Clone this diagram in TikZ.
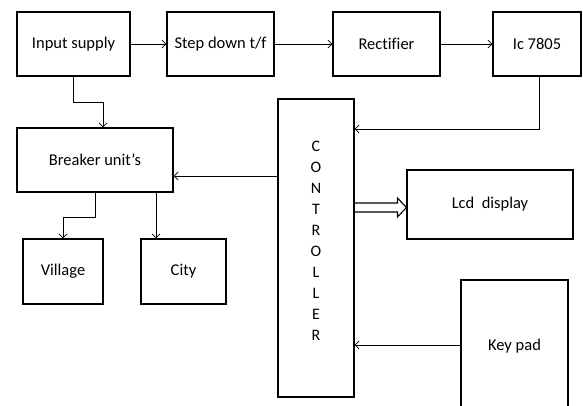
\documentclass[tikz,border=0pt]{standalone}
\usepackage{fontspec}
\setmainfont[Ligatures=NoCommon]{Carlito}
\usetikzlibrary{arrows.meta,calc}
\begin{document}
\begin{tikzpicture}[x=1pt,y=-1pt,
  blk/.style={draw,line width=1.1pt,inner sep=0pt,font=\fontsize{16.5}{19}\selectfont},
  arr/.style={line width=0.8pt,-{Straight Barb[length=4pt,width=8pt]}},
  ln/.style={line width=0.8pt}]
\useasboundingbox (0,0) rectangle (583,405);
\clip (0,0) rectangle (583,405);
\node[blk,minimum width=113pt,minimum height=64pt] (inp) at (73.5,44) {Input supply};
\node[blk,minimum width=107pt,minimum height=64pt] (step) at (220.5,44) {Step down t/f};
\node[blk,minimum width=107pt,minimum height=64pt] (rect) at (386.5,44) {Rectifier};
\node[blk,minimum width=88pt,minimum height=64pt] (ic) at (537,44) {Ic 7805};
\node[blk,minimum width=76pt,minimum height=298pt] (ctrl) at (316,248) {};
\node[font=\fontsize{16}{21}\selectfont,align=center,inner sep=0pt] (ctrltxt) at (316,241) {C\\O\\N\\T\\R\\O\\L\\L\\E\\R};
\node[blk,minimum width=156pt,minimum height=64pt] (brk) at (95,160) {Breaker unit’s};
\node[blk,minimum width=80pt,minimum height=65pt] (vil) at (63,271.5) {Village};
\node[blk,minimum width=85pt,minimum height=65pt] (city) at (183.5,271.5) {City};
\node[blk,minimum width=166pt,minimum height=69pt] (lcd) at (490,204.5) {Lcd\ \ display};
\node[blk,minimum width=107pt,minimum height=130pt,text depth=0pt] (key) at (514.5,345) {Key pad};
\draw[arr] (inp) -- (step);
\draw[arr] (step) -- (rect);
\draw[arr] (rect) -- (ic);
\coordinate (j1) at (103,102);
\draw[arr] (inp.south) |- (j1) -- (brk.north -| j1);
\coordinate (j2) at (539,129);
\draw[arr] (ic.south -| j2) -- (j2) -- (ctrl.east |- j2);
\coordinate (j3) at (0,176);
\draw[arr] (ctrl.west |- j3) -- (brk.east |- j3);
\draw[arr] (brk.south) -- ++(0,25) -| (vil.north);
\coordinate (j4) at (156,0);
\draw[arr] (brk.south -| j4) -- (city.north -| j4);
\draw[arr] (key.west) -- (ctrl.east |- key.west);
\coordinate (h) at (0,207.5);
\draw[line width=1.1pt,line join=miter]
  ($(ctrl.east |- h)+(0,-4.5)$) -- ($(lcd.west |- h)+(-9,-4.5)$) -- ($(lcd.west |- h)+(-9,-9.5)$)
  -- (lcd.west |- h) -- ($(lcd.west |- h)+(-9,9.5)$) -- ($(lcd.west |- h)+(-9,4.5)$) -- ($(ctrl.east |- h)+(0,4.5)$);
\end{tikzpicture}
\end{document}
